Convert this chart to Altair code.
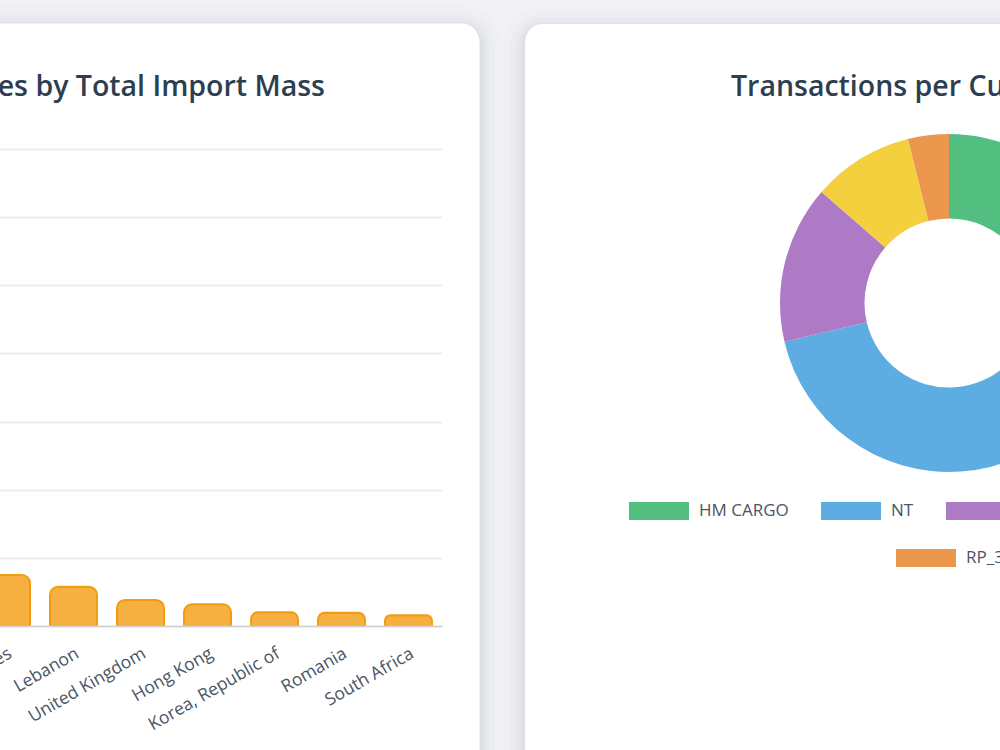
import altair as alt
import pandas as pd

# Top 10 countries by total import mass (kg)
countries = [
    "China", "Turkey", "India", "United States", "Lebanon", "United Kingdom",
    "Hong Kong", "Korea, Republic of", "Romania", "South Africa",
]
import_mass = [3240000, 1150000, 620000, 374000, 288000, 191000, 159000, 100000, 98000, 78000]
mass_ticks = [0, 500000, 1000000, 1500000, 2000000, 2500000, 3000000, 3500000]

# Transactions handled per customs broker
brokers = ["HM CARGO", "NT", "AL FARES", "SEA STAR", "RP_3"]
transactions = [142, 241, 81, 52, 21]
broker_colors = ["#52BE80", "#5DADE2", "#AF7AC5", "#F4D03F", "#EB984E"]

mass_df = pd.DataFrame({"country": countries, "mass": import_mass})
broker_df = pd.DataFrame({"broker": brokers, "transactions": transactions, "rank": list(range(len(brokers)))})
total_tx = sum(transactions)

# ---- page layout (pixels) ----
PAGE_W, PAGE_H = 1000, 750
PLOT_RIGHT, PLOT_BOTTOM, PLOT_TOP = 442, 626, 149
STEP = 67
PLOT_LEFT = PLOT_RIGHT - STEP * len(countries)
BAR_W = 47
DONUT_X, DONUT_Y, R_OUT, R_IN = 949, 303, 169, 84.5

FONT = "Open Sans"
TITLE_COLOR = "#2c3e50"
TEXT_COLOR = "#4a5563"

one_row = alt.Data(values=[{}])

# ---- cards with soft shadows ----
cards = [(-60, 479.5, 23.5, 900), (525, 1100, 24, 900)]
deco = []
for (x0, x1, y0, y1) in cards:
    for spread, op in [(22, 0.012), (15, 0.016), (10, 0.02), (6, 0.025), (3, 0.03)]:
        deco.append(
            alt.Chart(one_row).mark_rect(
                fill="#2a2d52", opacity=op, cornerRadius=18 + spread
            ).encode(
                x=alt.value(x0 - spread), x2=alt.value(x1 + spread),
                y=alt.value(y0 - spread + 4), y2=alt.value(y1 + spread),
            )
        )
for (x0, x1, y0, y1) in cards:
    deco.append(
        alt.Chart(one_row).mark_rect(fill="white", cornerRadius=18).encode(
            x=alt.value(x0), x2=alt.value(x1), y=alt.value(y0), y2=alt.value(y1)
        )
    )

# ---- bar chart ----
bars = alt.Chart(mass_df).mark_bar(
    fill="#F5B041", stroke="#F39C12", strokeWidth=2,
    cornerRadiusTopLeft=8, cornerRadiusTopRight=8,
).encode(
    x=alt.X(
        "country:N", sort=countries,
        scale=alt.Scale(
            range=[PLOT_LEFT, PLOT_RIGHT],
            paddingInner=(STEP - BAR_W) / STEP,
            paddingOuter=(STEP - BAR_W) / STEP / 2,
        ),
        axis=alt.Axis(
            title=None, labelAngle=330, labelAlign="right", labelBaseline="middle",
            labelFont=FONT, labelFontSize=17.5, labelColor=TEXT_COLOR,
            labelPadding=26, labelOffset=4, ticks=False, domainColor="#d0d0d0", domainWidth=1.5,
            grid=False, zindex=1, labelLimit=300,
        ),
    ),
    y=alt.Y(
        "mass:Q",
        scale=alt.Scale(domain=[mass_ticks[0], mass_ticks[-1]], range=[PLOT_BOTTOM, PLOT_TOP], nice=False),
        axis=alt.Axis(
            title=None, values=mass_ticks, labels=False, ticks=False, domain=False,
            grid=True, gridColor="#e8e8e8", gridWidth=1.5, zindex=1,
        ),
    ),
)

# ---- donut chart ----
ring_base = alt.Chart(broker_df).transform_window(
    cum="sum(transactions)", sort=[alt.SortField("rank")]
).transform_calculate(start="datum.cum - datum.transactions")

legend_style = dict(
    orient="none", direction="horizontal", title=None,
    symbolType="M-1,-0.3H1V0.3H-1Z", symbolSize=3600, symbolStrokeWidth=0, symbolOpacity=1,
    labelFont=FONT, labelFontSize=17, labelColor=TEXT_COLOR, labelOffset=10,
    columnPadding=32, padding=0,
)

theta_scale = alt.Scale(domain=[0, total_tx])

ring_main = ring_base.transform_filter(
    alt.FieldOneOfPredicate(field="broker", oneOf=brokers[:4])
).mark_arc(radius=R_OUT, radius2=R_IN).encode(
    theta=alt.Theta("start:Q", scale=theta_scale),
    theta2="cum:Q",
    x=alt.value(DONUT_X), y=alt.value(DONUT_Y),
    color=alt.Color(
        "broker:N",
        scale=alt.Scale(domain=brokers[:4], range=broker_colors[:4]),
        legend=alt.Legend(legendX=629, legendY=481, **legend_style),
    ),
)

ring_rest = ring_base.transform_filter(
    alt.FieldEqualPredicate(field="broker", equal=brokers[4])
).mark_arc(radius=R_OUT, radius2=R_IN).encode(
    theta=alt.Theta("start:Q", scale=theta_scale),
    theta2="cum:Q",
    x=alt.value(DONUT_X), y=alt.value(DONUT_Y),
    color=alt.Color(
        "broker:N",
        scale=alt.Scale(domain=brokers[4:], range=broker_colors[4:]),
        legend=alt.Legend(legendX=896, legendY=528, **legend_style),
    ),
)

# ---- card titles ----
title_left = alt.Chart(one_row).mark_text(
    text="Top 10 Countries by Total Import Mass", align="right", baseline="alphabetic",
    font=FONT, fontSize=28.5, fontWeight=600, color=TITLE_COLOR,
).encode(x=alt.value(325), y=alt.value(95.5))

title_right = alt.Chart(one_row).mark_text(
    text="Transactions per Customs Broker", align="left", baseline="alphabetic",
    font=FONT, fontSize=28.5, fontWeight=600, color=TITLE_COLOR,
).encode(x=alt.value(731), y=alt.value(95.5))

chart = alt.layer(
    *deco, bars, ring_main, ring_rest, title_left, title_right
).resolve_scale(
    color="independent"
).properties(
    width=PLOT_RIGHT, height=PLOT_BOTTOM,
    autosize=alt.AutoSizeParams(type="none"),
    padding={"left": 0, "top": 0, "right": PAGE_W - PLOT_RIGHT, "bottom": PAGE_H - PLOT_BOTTOM},
).configure(
    background="#f2f2f6"
).configure_view(
    stroke="transparent"
)

chart.save("out.html", embed_options={"renderer": "svg", "actions": False})
